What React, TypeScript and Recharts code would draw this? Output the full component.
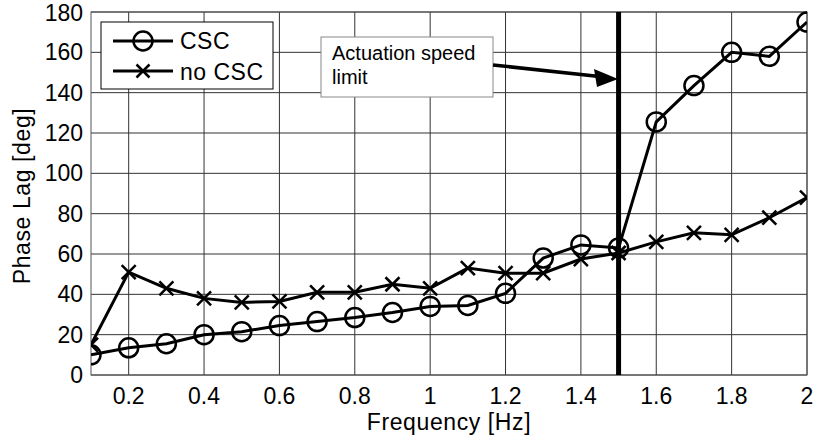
import { LineChart, Line, XAxis, YAxis, CartesianGrid, ReferenceLine, Customized } from 'recharts';

const freqs = [0.1, 0.2, 0.3, 0.4, 0.5, 0.6, 0.7, 0.8, 0.9, 1.0, 1.1, 1.2, 1.3, 1.4, 1.5, 1.6, 1.7, 1.8, 1.9, 2.0];
const csc = [10, 13.5, 15.5, 20, 21.5, 24.5, 26.5, 28.5, 31, 34, 34.5, 40.5, 58, 64.5, 63, 125.5, 143.5, 160, 158, 175];
const noCsc = [15, 51, 43, 38, 36, 36.5, 41, 41, 45, 43, 53, 50.5, 50.5, 57.5, 60.5, 66, 70.5, 69.5, 78, 88];
const xTicks = [0.2, 0.4, 0.6, 0.8, 1, 1.2, 1.4, 1.6, 1.8, 2];
const yTicks = [0, 20, 40, 60, 80, 100, 120, 140, 160, 180];
const speedLimit = 1.5;

const data = freqs.map((f, i) => ({ f, csc: csc[i], noCsc: noCsc[i] }));

const FONT = 'Liberation Sans, Arial, sans-serif';

const CircleDot = (props: any) => {
  const { cx, cy, index } = props;
  if (cx == null || cy == null) return null;
  return <circle key={index} cx={cx} cy={cy} r={9.5} fill="none" stroke="#000" strokeWidth={2.5} />;
};

const CrossDot = (props: any) => {
  const { cx, cy, index } = props;
  if (cx == null || cy == null) return null;
  const s = 7;
  return (
    <g key={index} stroke="#000" strokeWidth={2.5}>
      <line x1={cx - s} y1={cy - s} x2={cx + s} y2={cy + s} />
      <line x1={cx - s} y1={cy + s} x2={cx + s} y2={cy - s} />
    </g>
  );
};

// legend, annotation box, frame and axis titles
const Overlay = () => (
  <g fontFamily={FONT}>
    <rect x={91} y={12} width={716} height={363} fill="none" stroke="#555" strokeWidth={1} />
    <rect x={101} y={22} width={172} height={67} fill="#fff" stroke="#000" strokeWidth={1} />
    <line x1={113} y1={41} x2={173} y2={41} stroke="#000" strokeWidth={3} />
    <circle cx={143} cy={41} r={9.5} fill="none" stroke="#000" strokeWidth={2.5} />
    <text x={180} y={49} fontSize={23} letterSpacing={0.5} fill="#000">CSC</text>
    <line x1={113} y1={71} x2={173} y2={71} stroke="#000" strokeWidth={3} />
    <g stroke="#000" strokeWidth={2.5}>
      <line x1={136.5} y1={64.5} x2={149.5} y2={77.5} />
      <line x1={136.5} y1={77.5} x2={149.5} y2={64.5} />
    </g>
    <text x={180} y={80} fontSize={23} letterSpacing={0.5} fill="#000">no CSC</text>

    <rect x={321} y={37} width={172} height={60} fill="#fff" stroke="#888" strokeWidth={1} />
    <text x={332} y={60} fontSize={20} fill="#000">Actuation speed</text>
    <text x={332} y={84} fontSize={20} fill="#000">limit</text>
    <line x1={493} y1={65} x2={604} y2={77} stroke="#000" strokeWidth={3.5} />
    <polygon points="618,79 594,69 597,87" fill="#000" />

    <text x={449} y={430} fontSize={23} letterSpacing={0.6} textAnchor="middle" fill="#000">Frequency [Hz]</text>
    <text x={30} y={196} fontSize={23} letterSpacing={0.6} textAnchor="middle" fill="#000" transform="rotate(-90 30 196)">Phase Lag [deg]</text>
  </g>
);

export default function App() {
  return (
    <div style={{ position: 'absolute', left: 0, top: 0, background: '#fff' }}>
      <LineChart width={820} height={444} data={data} margin={{ top: 12, right: 13, bottom: 39, left: 31 }}>
        <CartesianGrid stroke="#333" strokeWidth={1} horizontalValues={yTicks} verticalValues={xTicks} />
        <XAxis
          dataKey="f"
          type="number"
          domain={[0.1, 2]}
          ticks={xTicks}
          height={30}
          axisLine={false}
          tickLine={false}
          tickSize={0}
          tick={{ fontSize: 23, fill: '#000', fontFamily: FONT }}
          tickMargin={13}
          allowDataOverflow
        />
        <YAxis
          type="number"
          domain={[0, 180]}
          ticks={yTicks}
          width={60}
          axisLine={false}
          tickLine={false}
          tickSize={0}
          tick={{ fontSize: 23, fill: '#000', fontFamily: FONT }}
          tickMargin={8}
        />
        <ReferenceLine x={speedLimit} stroke="#000" strokeWidth={5} />
        <Line dataKey="noCsc" stroke="#000" strokeWidth={3} dot={<CrossDot />} isAnimationActive={false} />
        <Line dataKey="csc" stroke="#000" strokeWidth={3} dot={<CircleDot />} isAnimationActive={false} />
        <Customized component={Overlay} />
      </LineChart>
    </div>
  );
}
